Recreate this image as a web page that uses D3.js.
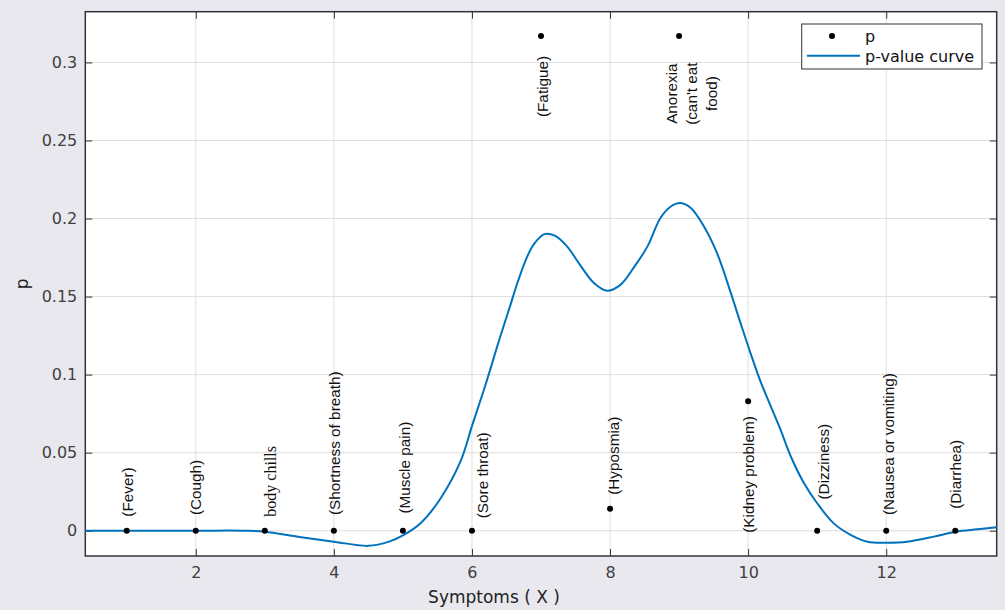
<!DOCTYPE html>
<html>
<head>
<meta charset="utf-8">
<script src="https://cdn.jsdelivr.net/npm/d3@7.9.0/dist/d3.min.js"></script>
<style>
  body { margin: 0; background: #e9e8ee; }
  svg { display: block; }
</style>
</head>
<body>
<div id="chart"></div>
<script>
// Symptom points (x = symptom index, p)
const symX = [1, 2, 3, 4, 5, 6, 7, 8, 9, 10, 11, 12, 13];
const symP = [0, 0, 0, 0, 0, 0, 0.317, 0.014, 0.317, 0.083, 0, 0, 0];
const symLabels = [
  "(Fever)", "(Cough)", "body chills", "(Shortness of breath)", "(Muscle pain)",
  "(Sore throat)", "(Fatigue)", "(Hyposmia)", "Anorexia\n(can't eat\nfood)",
  "(Kidney problem)", "(Dizziness)", "(Nausea or vomiting)", "(Diarrhea)"
];
// where each label text sits (data units)
const labelX = [1.02, 2.0, 3.08, 4.01, 5.03, 6.16, 7.02, 8.05, 9.0, 10.01, 11.09, 12.03, 13.0];
const labelY = [0.009, 0.010, 0.009, 0.010, 0.011, 0.008, 0.265, 0.023, 0.280, -0.0013, 0.020, 0.010, 0.014];

// p-value curve samples
const curveX = [0.4, 1, 2, 2.7, 3.0, 3.5, 4.0, 4.5, 4.8, 5.0, 5.26, 5.55, 5.84, 6.0, 6.2, 6.4, 6.56, 6.66,
  6.8, 6.9, 7.05, 7.2, 7.38, 7.57, 7.77, 7.96, 8.15, 8.35, 8.54, 8.73, 8.88, 9.02, 9.17, 9.36, 9.55,
  9.75, 9.89, 10.04, 10.18, 10.33, 10.47, 10.62, 10.81, 11.0, 11.24, 11.49, 11.73, 12.02, 12.3, 12.69,
  13.01, 13.32, 13.6];
const curveY = [0, 0, 0, 0, -0.0006, -0.004, -0.007, -0.0097, -0.007, -0.003, 0.005, 0.021, 0.045, 0.067,
  0.094, 0.123, 0.145, 0.159, 0.1756, 0.1838, 0.190, 0.189, 0.182, 0.170, 0.1586, 0.1538, 0.1575, 0.169,
  0.182, 0.2003, 0.2077, 0.2099, 0.2067, 0.1949, 0.1778, 0.1522, 0.133, 0.113, 0.0955, 0.0795, 0.0646,
  0.0474, 0.0304, 0.0176, 0.0047, -0.0028, -0.0071, -0.0077, -0.0071, -0.0038, -0.0006, 0.0009, 0.0022];

const xTicks = [2, 4, 6, 8, 10, 12];
const yTicks = [0, 0.05, 0.1, 0.15, 0.2, 0.25, 0.3];

const W = 1005, H = 610;
const pL = 85.3, pR = 996.7, pT = 11.7, pB = 556;

const svg = d3.select("#chart").append("svg").attr("width", W).attr("height", H);

const x = d3.scaleLinear().domain([0.4, 13.6]).range([pL, pR]);
const y = d3.scaleLinear().domain([-0.0162, 0.3325]).range([pB, pT]);

// plot area
svg.append("rect")
  .attr("x", pL).attr("y", pT)
  .attr("width", pR - pL).attr("height", pB - pT)
  .attr("fill", "#fff");

// grid
svg.append("g").selectAll("line").data(xTicks).join("line")
  .attr("x1", d => x(d)).attr("x2", d => x(d))
  .attr("y1", pT).attr("y2", pB)
  .attr("stroke", "#dedede").attr("stroke-width", 1);
svg.append("g").selectAll("line").data(yTicks).join("line")
  .attr("y1", d => y(d)).attr("y2", d => y(d))
  .attr("x1", pL).attr("x2", pR)
  .attr("stroke", "#dedede").attr("stroke-width", 1);

// axes (inward ticks, box style)
const tickFont = g => g.selectAll("text")
  .attr("font-family", "DejaVu Sans").attr("font-size", 16).attr("fill", "#404040");

svg.append("g").attr("transform", `translate(0,${pB})`)
  .call(d3.axisBottom(x).tickValues(xTicks).tickSize(-7).tickPadding(11).tickFormat(d3.format("d")))
  .call(g => g.select(".domain").remove())
  .call(g => g.selectAll("line").attr("stroke", "#333"))
  .call(tickFont);
svg.append("g").attr("transform", `translate(0,${pT})`)
  .call(d3.axisTop(x).tickValues(xTicks).tickSize(-7).tickFormat(""))
  .call(g => g.select(".domain").remove())
  .call(g => g.selectAll("line").attr("stroke", "#333"));
svg.append("g").attr("transform", `translate(${pL},0)`)
  .call(d3.axisLeft(y).tickValues(yTicks).tickSize(-7).tickPadding(8).tickFormat(d => d3.format("~g")(d)))
  .call(g => g.select(".domain").remove())
  .call(g => g.selectAll("line").attr("stroke", "#333"))
  .call(tickFont);
svg.append("g").attr("transform", `translate(${pR},0)`)
  .call(d3.axisRight(y).tickValues(yTicks).tickSize(-7).tickFormat(""))
  .call(g => g.select(".domain").remove())
  .call(g => g.selectAll("line").attr("stroke", "#333"));

svg.append("rect")
  .attr("x", pL).attr("y", pT)
  .attr("width", pR - pL).attr("height", pB - pT)
  .attr("fill", "none").attr("stroke", "#333").attr("stroke-width", 1.5);

// curve
const curveData = curveX.map((d, i) => [d, curveY[i]]);
svg.append("path")
  .datum(curveData)
  .attr("fill", "none")
  .attr("stroke", "#0072BD")
  .attr("stroke-width", 2)
  .attr("d", d3.line().x(d => x(d[0])).y(d => y(d[1])).curve(d3.curveCatmullRom.alpha(0.5)));

// points
svg.append("g").selectAll("circle").data(symX).join("circle")
  .attr("cx", d => x(d))
  .attr("cy", (d, i) => y(symP[i]))
  .attr("r", 3)
  .attr("fill", "#000");

// labels
const lab = svg.append("g").selectAll("text").data(symLabels).join("text")
  .attr("transform", (d, i) => `translate(${x(labelX[i])},${y(labelY[i])}) rotate(-90)`)
  .attr("font-family", d => d === "body chills" ? "Liberation Serif" : "Liberation Sans")
  .attr("font-size", d => d === "body chills" ? 16 : 15.3)
  .attr("fill", "#111")
  .attr("text-anchor", d => d.includes("\n") ? "middle" : "start");
lab.each(function (d) {
  const lines = d.split("\n");
  const t = d3.select(this);
  if (lines.length === 1) {
    t.attr("dy", "0.35em").text(d);
  } else {
    lines.forEach((s, k) => {
      t.append("tspan").attr("x", 0).attr("y", -7.4 + k * 20).attr("dy", "0.35em").text(s);
    });
  }
});

// axis labels
svg.append("text")
  .attr("x", 494).attr("y", 603)
  .attr("text-anchor", "middle")
  .attr("font-family", "DejaVu Sans").attr("font-size", 17).attr("fill", "#222")
  .text("Symptoms ( X )");
svg.append("text")
  .attr("transform", `translate(28,${(pT + pB) / 2}) rotate(-90)`)
  .attr("text-anchor", "middle")
  .attr("font-family", "DejaVu Sans").attr("font-size", 17).attr("fill", "#222")
  .text("p");

// legend
const lg = svg.append("g");
lg.append("rect")
  .attr("x", 801.7).attr("y", 24).attr("width", 180.3).attr("height", 45)
  .attr("fill", "#fff").attr("stroke", "#333").attr("stroke-width", 1);
lg.append("circle").attr("cx", 832).attr("cy", 36).attr("r", 3).attr("fill", "#000");
lg.append("line").attr("x1", 807).attr("x2", 860).attr("y1", 55.7).attr("y2", 55.7)
  .attr("stroke", "#0072BD").attr("stroke-width", 2);
lg.selectAll("text.lt").data(["p", "p-value curve"]).join("text")
  .attr("x", 865).attr("y", (d, i) => 36 + i * 20).attr("dy", "0.35em")
  .attr("font-family", "DejaVu Sans").attr("font-size", 16).attr("fill", "#111")
  .text(d => d);
</script>
</body>
</html>
